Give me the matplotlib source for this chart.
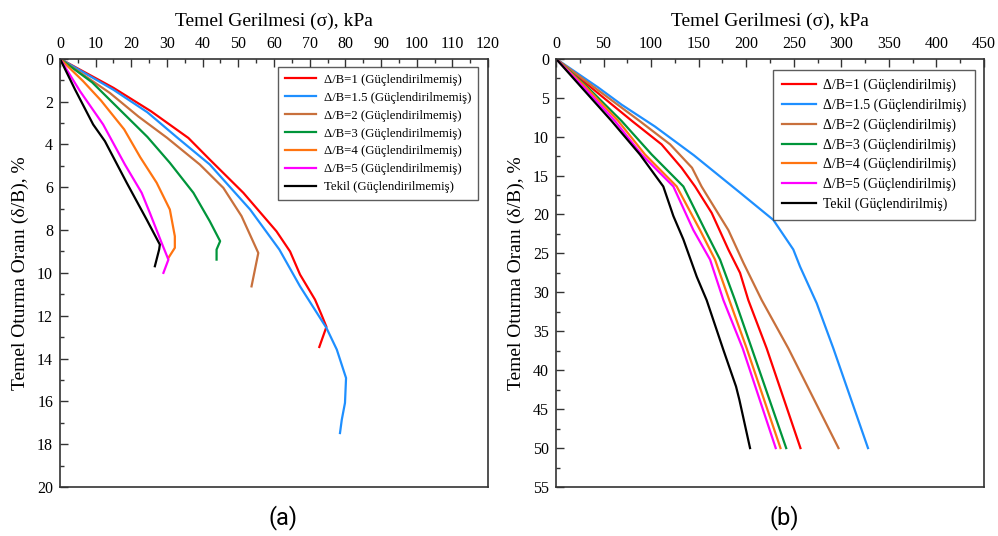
import numpy as np
import matplotlib
matplotlib.use("Agg")
import matplotlib.pyplot as plt
from matplotlib.ticker import MultipleLocator

plt.rcParams['font.family'] = ['Liberation Serif', 'DejaVu Serif']

# ---- data: panel (a), unreinforced ----
a_red_x = [0, 15, 25.5, 36, 42.0, 51.4, 60.7, 64.5, 67.3, 71.5, 73.3, 74.7, 72.7]
a_red_y = [0, 1.36, 2.45, 3.7, 4.71, 6.26, 8.06, 9.0, 10.08, 11.25, 11.95, 12.52, 13.46]
a_blue_x = [0, 15, 24.5, 33, 42, 53.3, 61.5, 67.3, 74.7, 77.6, 80.2, 79.9, 79.0, 78.5]
a_blue_y = [0, 1.45, 2.5, 3.7, 4.94, 7.04, 8.91, 10.63, 12.57, 13.58, 14.91, 16.07, 16.86, 17.48]
a_brown_x = [0, 14, 22, 30, 39.2, 45.8, 50.9, 55.6, 53.7]
a_brown_y = [0, 1.6, 2.7, 3.69, 4.94, 6.03, 7.35, 9.07, 10.63]
a_green_x = [0, 9, 17.5, 24.5, 30.8, 37.4, 42.0, 44.9, 43.9, 43.9]
a_green_y = [0, 1.1, 2.5, 3.65, 4.86, 6.26, 7.59, 8.52, 8.91, 9.38]
a_orange_x = [0, 6.5, 11.5, 18.0, 22.5, 27.1, 30.8, 32.2, 32.2, 30.4]
a_orange_y = [0, 1.05, 1.95, 3.3, 4.6, 5.79, 7.04, 8.29, 8.83, 9.30]
a_mag_x = [0, 5.6, 12.1, 18.2, 22.9, 25.2, 28.5, 30.4, 29.0]
a_mag_y = [0, 1.51, 3.07, 4.94, 6.26, 7.2, 8.6, 9.38, 10.0]
a_blk_x = [0, 4.2, 9.3, 12.6, 18.7, 24.3, 28.0, 27.8, 26.6]
a_blk_y = [0, 1.43, 3.07, 3.85, 5.79, 7.51, 8.68, 8.91, 9.69]

# ---- data: panel (b), reinforced ----
b_red_x = [0, 37, 80, 111, 132, 146.2, 163.7, 181.2, 193.5, 202.2, 221.5, 257]
b_red_y = [0, 3.7, 8, 11, 14, 16.4, 19.8, 24.5, 27.5, 31, 37.2, 50]
b_blue_x = [0, 44.5, 69, 104, 145, 193.5, 228.5, 249.5, 256.6, 274.1, 291.6, 328]
b_blue_y = [0, 3.7, 5.9, 8.7, 12.4, 17.2, 20.7, 24.5, 26.7, 31.4, 37.2, 50]
b_brown_x = [0, 40.5, 88, 120, 143, 153, 157, 181.2, 197, 216.3, 244.3, 297]
b_brown_y = [0, 3.7, 8, 11, 14, 16.4, 17.2, 22, 26.2, 31, 37.2, 50]
b_green_x = [0, 33.5, 69, 100.6, 133.9, 156.7, 172.5, 188.2, 205.8, 242]
b_green_y = [0, 3.7, 8, 12.3, 16.4, 22, 25.8, 31, 37.2, 50]
b_orange_x = [0, 32, 65.5, 93.6, 126.9, 151.4, 167.2, 182.2, 200.5, 236]
b_orange_y = [0, 3.7, 8, 12.3, 16.4, 22, 25.8, 31, 37.2, 50]
b_mag_x = [0, 29.5, 62, 90, 123.4, 144.4, 162, 176, 196.3, 231]
b_mag_y = [0, 3.7, 8, 12.3, 16.4, 22, 25.8, 31, 37.2, 50]
b_blk_x = [0, 27, 58.5, 88.3, 112.8, 123.4, 133.9, 148, 158.4, 176, 189.3, 192.8, 204]
b_blk_y = [0, 3.7, 8, 12.3, 16.4, 20.2, 23.2, 28, 31, 37.4, 42.1, 43.8, 50]

colors = ['#FF0000', '#1E8FFF', '#C8703C', '#00953A', '#FF7410', '#FF00FF', '#000000']
names = ['Δ/B=1', 'Δ/B=1.5', 'Δ/B=2', 'Δ/B=3', 'Δ/B=4', 'Δ/B=5', 'Tekil']

fig = plt.figure(figsize=(9.98, 5.36), dpi=100)
ax1 = fig.add_axes([0.0601, 0.0914, 0.4289, 0.799])
ax2 = fig.add_axes([0.5571, 0.0914, 0.4289, 0.799])

series_a = [(a_red_x, a_red_y), (a_blue_x, a_blue_y), (a_brown_x, a_brown_y),
            (a_green_x, a_green_y), (a_orange_x, a_orange_y), (a_mag_x, a_mag_y),
            (a_blk_x, a_blk_y)]
series_b = [(b_red_x, b_red_y), (b_blue_x, b_blue_y), (b_brown_x, b_brown_y),
            (b_green_x, b_green_y), (b_orange_x, b_orange_y), (b_mag_x, b_mag_y),
            (b_blk_x, b_blk_y)]

for i, (x, y) in enumerate(series_a):
    ax1.plot(x, y, color=colors[i], lw=1.6, label=names[i] + ' (Güçlendirilmemiş)')
for i, (x, y) in enumerate(series_b):
    ax2.plot(x, y, color=colors[i], lw=1.6, label=names[i] + ' (Güçlendirilmiş)')

def style(ax, xmax, xmaj, xmin, ymax, ymaj, ymin):
    ax.set_xlim(0, xmax)
    ax.set_ylim(ymax, 0)
    ax.xaxis.set_major_locator(MultipleLocator(xmaj))
    ax.xaxis.set_minor_locator(MultipleLocator(xmin))
    ax.yaxis.set_major_locator(MultipleLocator(ymaj))
    ax.yaxis.set_minor_locator(MultipleLocator(ymin))
    ax.xaxis.tick_top()
    ax.xaxis.set_label_position('top')
    ax.tick_params(axis='both', which='major', direction='in', length=6,
                   labelsize=11.5, width=1, color='#333333', pad=5)
    ax.tick_params(axis='both', which='minor', direction='in', length=3,
                   width=1, color='#333333')
    ax.tick_params(right=False, bottom=False, which='both')
    for s in ax.spines.values():
        s.set_color('#333333')
        s.set_linewidth(1.2)
    ax.set_xlabel('Temel Gerilmesi (σ), kPa', fontsize=14, labelpad=7)
    ax.set_ylabel('Temel Oturma Oranı (δ/B), %', fontsize=14, labelpad=6)

style(ax1, 120, 10, 5, 20, 2, 1)
style(ax2, 450, 50, 25, 55, 5, 2.5)

leg1 = ax1.legend(loc='upper right', bbox_to_anchor=(0.977, 0.981), borderaxespad=0,
                  fontsize=9.2, frameon=True, fancybox=False, edgecolor='#333333',
                  handlelength=2.4, handletextpad=0.6, labelspacing=0.46, borderpad=0.55)
leg1.get_frame().set_linewidth(1.0)
leg2 = ax2.legend(loc='upper right', bbox_to_anchor=(0.979, 0.974), borderaxespad=0,
                  fontsize=10, frameon=True, fancybox=False, edgecolor='#333333',
                  handlelength=2.45, handletextpad=0.5, labelspacing=0.45, borderpad=0.65)
leg2.get_frame().set_linewidth(1.0)

fig.text(0.284, 0.035, '(a)', fontsize=17, family='Roboto', ha='center', va='center')
fig.text(0.786, 0.035, '(b)', fontsize=17, family='Roboto', ha='center', va='center')

fig.savefig('out.png', dpi=100)
